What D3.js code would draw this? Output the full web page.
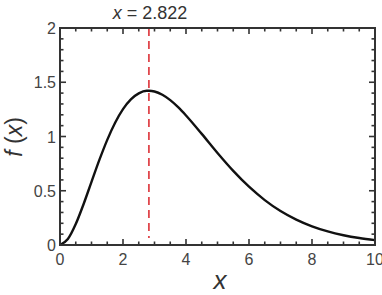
<!DOCTYPE html>
<html>
<head>
<meta charset="utf-8">
<script src="https://cdn.jsdelivr.net/npm/d3@7"></script>
<style>
  body { margin: 0; background: #fff; }
  text { font-family: "Liberation Sans", Arial, sans-serif; }
</style>
</head>
<body>
<div id="chart"></div>
<script>
// values
var xValues = [0, 0.25, 0.5, 0.75, 1, 1.25, 1.5, 1.75, 2, 2.25, 2.5, 2.75, 2.822, 3, 3.25, 3.5, 3.75, 4, 4.5, 5, 5.5, 6, 6.5, 7, 7.5, 8, 8.5, 9, 9.5, 10];
var fValues = [0, 0.055, 0.193, 0.378, 0.582, 0.784, 0.969, 1.127, 1.252, 1.342, 1.397, 1.421, 1.421, 1.415, 1.385, 1.335, 1.270, 1.194, 1.024, 0.848, 0.683, 0.537, 0.414, 0.313, 0.234, 0.172, 0.125, 0.090, 0.064, 0.045];
var peakX = 2.822;
var xTicks = [0, 2, 4, 6, 8, 10];
var yTicks = [0, 0.5, 1, 1.5, 2];

var W = 382, H = 295;
var padL = 60, padR = 375, padT = 28, padB = 245;
var frame = "#333";

var svg = d3.select("#chart").append("svg")
  .attr("width", W)
  .attr("height", H);

var x = d3.scaleLinear().domain([0, 10]).range([padL, padR]);
var y = d3.scaleLinear().domain([0, 2]).range([padB, padT]);

var data = xValues.map(function(d, i) { return { x: d, y: fValues[i] }; });

// ticks on all four sides, pointing inward
var xMinor = d3.range(0, 10.01, 0.5);
var yMinor = d3.range(0, 2.001, 0.1);

function isMajorX(v) { return Math.abs(v / 2 - Math.round(v / 2)) < 1e-6; }
function isMajorY(v) { return Math.abs(v / 0.5 - Math.round(v / 0.5)) < 1e-6; }

var g = svg.append("g").attr("stroke", frame).attr("stroke-width", 1.6);

xMinor.forEach(function(v) {
  var len = isMajorX(v) ? 6 : 3.5;
  g.append("line").attr("x1", x(v)).attr("x2", x(v)).attr("y1", padB).attr("y2", padB - len);
  g.append("line").attr("x1", x(v)).attr("x2", x(v)).attr("y1", padT).attr("y2", padT + len);
});
yMinor.forEach(function(v) {
  var len = isMajorY(v) ? 6 : 3.5;
  g.append("line").attr("x1", padL).attr("x2", padL + len).attr("y1", y(v)).attr("y2", y(v));
  g.append("line").attr("x1", padR).attr("x2", padR - len).attr("y1", y(v)).attr("y2", y(v));
});

// dashed marker at the peak
svg.append("line")
  .attr("x1", x(peakX)).attr("x2", x(peakX))
  .attr("y1", padT).attr("y2", padB - 7)
  .attr("stroke", "#e0474c")
  .attr("stroke-width", 1.8)
  .attr("stroke-dasharray", "8,5");

// curve
var line = d3.line()
  .x(function(d) { return x(d.x); })
  .y(function(d) { return y(d.y); })
  .curve(d3.curveMonotoneX);

svg.append("path")
  .datum(data)
  .attr("d", line)
  .attr("fill", "none")
  .attr("stroke", "#111")
  .attr("stroke-width", 2.4);

// frame
svg.append("rect")
  .attr("x", padL).attr("y", padT)
  .attr("width", padR - padL).attr("height", padB - padT)
  .attr("fill", "none")
  .attr("stroke", frame)
  .attr("stroke-width", 2);

// tick labels
svg.selectAll(".xl").data(xTicks).enter().append("text")
  .attr("x", function(d) { return x(d); })
  .attr("y", padB + 20)
  .attr("text-anchor", "middle")
  .attr("font-size", 16)
  .attr("fill", "#444")
  .text(function(d) { return d; });

svg.selectAll(".yl").data(yTicks).enter().append("text")
  .attr("x", padL - 4)
  .attr("y", function(d) { return y(d) + 6; })
  .attr("text-anchor", "end")
  .attr("font-size", 16)
  .attr("fill", "#444")
  .text(function(d) { return d; });

// axis titles
svg.append("text")
  .attr("x", 220).attr("y", 289)
  .attr("text-anchor", "middle")
  .attr("font-size", 26)
  .attr("font-style", "italic")
  .attr("fill", "#333")
  .text("x");

var yt = svg.append("text")
  .attr("transform", "translate(22," + 137 + ") rotate(-90)")
  .attr("text-anchor", "middle")
  .attr("font-size", 23)
  .attr("fill", "#333");
yt.append("tspan").attr("font-style", "italic").text("f");
yt.append("tspan").text(" (");
yt.append("tspan").attr("font-style", "italic").text("x");
yt.append("tspan").text(")");

// peak label
var pt = svg.append("text")
  .attr("x", 150).attr("y", 19)
  .attr("text-anchor", "middle")
  .attr("font-size", 18)
  .attr("fill", "#333");
pt.append("tspan").attr("font-style", "italic").text("x");
pt.append("tspan").text(" = " + peakX);
</script>
</body>
</html>
